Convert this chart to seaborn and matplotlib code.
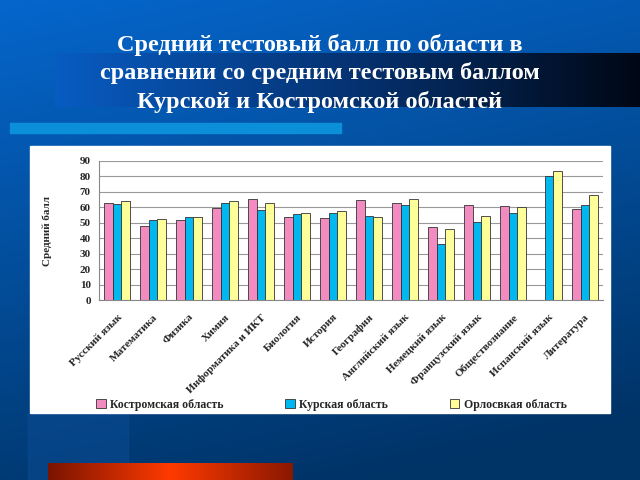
import numpy as np
import pandas as pd
import matplotlib
matplotlib.use("Agg")
import matplotlib.pyplot as plt
import seaborn as sns
from matplotlib.patches import Rectangle
from matplotlib.colors import LinearSegmentedColormap
from matplotlib.transforms import ScaledTranslation

subjects = ["Русский язык", "Математика", "Физика", "Химия", "Информатика и ИКТ",
            "Биология", "История", "География", "Английский язык", "Немецкий язык",
            "Французский язык", "Обществознание", "Испанский язык", "Литература"]
kostroma = [63.1, 47.7, 51.8, 59.6, 65.1, 53.6, 53.4, 64.6, 62.7, 47.3, 61.8, 60.9, np.nan, 59.0]
kursk = [62.0, 51.6, 54.0, 62.5, 58.1, 56.0, 56.4, 54.7, 61.4, 36.2, 50.7, 56.4, 80.2, 61.6]
orel = [64.4, 52.3, 54.0, 63.8, 62.7, 56.2, 57.7, 53.6, 65.3, 45.8, 54.7, 60.5, 83.3, 67.9]
series_names = ["Костромская область", "Курская область", "Орлосвкая область"]
title_lines = ["Средний тестовый балл по области в",
               "сравнении со средним тестовым баллом",
               "Курской и Костромской областей"]
y_label = "Средний балл"

rows = []
for vals, name in zip([kostroma, kursk, orel], series_names):
    for s, v in zip(subjects, vals):
        rows.append({"subject": s, "region": name, "value": v})
df = pd.DataFrame(rows)

sns.set_style("white")
plt.rcParams["font.family"] = ["Liberation Serif", "DejaVu Serif"]

W, H = 640, 480
fig = plt.figure(figsize=(6.4, 4.8), dpi=100)

# background
bg = fig.add_axes([0, 0, 1, 1], zorder=-10)
bg.set_xlim(0, W); bg.set_ylim(H, 0); bg.axis("off")
yy = np.linspace(0, 1, 200)[:, None]
xx = np.linspace(0, 1, 200)[None, :]
top = np.array([0.02, 0.40, 0.80]); bot = np.array([0.0, 0.20, 0.40])
t = np.clip(yy * 0.85 + xx * 0.25, 0, 1)[..., None]
img = top * (1 - t) + bot * t
bg.imshow(img, extent=[0, W, H, 0], aspect="auto", zorder=0)
band_cmap = LinearSegmentedColormap.from_list("band", [(0.03, 0.36, 0.76), (0.02, 0.20, 0.45), (0.0, 0.03, 0.08)])
grad = np.linspace(0, 1, 256)[None, :]
bg.imshow(grad, cmap=band_cmap, extent=[55, W, 107, 53], aspect="auto", zorder=1)
bg.add_patch(Rectangle((10, 123), 331, 10, color="#0a8fd8", zorder=2))
bg.add_patch(Rectangle((28, 413), 100, 67, color="#0a4a90", alpha=0.6, zorder=1))
red_cmap = LinearSegmentedColormap.from_list("red", ["#7a1400", "#ff3a00", "#8a1800"])
bg.imshow(grad, cmap=red_cmap, extent=[48, 293, 480, 463], aspect="auto", zorder=2)
bg.add_patch(Rectangle((30, 146), 580, 267, color="white", zorder=3))

for i, line in enumerate(title_lines):
    fig.text(0.5, 1 - (45 + i * 28.5) / H, line, ha="center", va="center",
             color="white", fontsize=17.5, fontweight="bold")

ax = fig.add_axes([99 / W, 1 - 300 / H, (603 - 99) / W, (300 - 161) / H])
palette = {"Костромская область": "#f28cc0", "Курская область": "#00b8f0",
           "Орлосвкая область": "#ffff99"}
sns.barplot(data=df, x="subject", y="value", hue="region", palette=palette,
            width=0.72, edgecolor="#333333", linewidth=0.6, saturation=1,
            ax=ax, legend=True)
ax.set_ylim(0, 90)
ax.set_yticks(range(0, 91, 10))
ax.yaxis.grid(True, color="#999999", linewidth=0.8)
ax.set_axisbelow(True)
ax.set_xlabel("")
ax.set_ylabel(y_label, fontsize=8, fontweight="bold", labelpad=20)
ax.set_xticks(range(len(subjects)))
ax.set_xticklabels(subjects, rotation=45, ha="right", rotation_mode="anchor",
                   fontsize=8, fontweight="bold")
shift = ScaledTranslation(-4 / 100, 0, fig.dpi_scale_trans)
for lab in ax.get_xticklabels():
    lab.set_transform(lab.get_transform() + shift)
for lab in ax.get_yticklabels():
    lab.set_fontsize(8); lab.set_fontweight("bold")
for s in ["top", "right"]:
    ax.spines[s].set_visible(False)
for s in ["left", "bottom"]:
    ax.spines[s].set_color("#888888"); ax.spines[s].set_linewidth(0.8)
ax.tick_params(axis="x", length=0, color="#888888", pad=9)
ax.tick_params(axis="y", length=3, color="#888888", pad=3)
ax.set_xticks(np.arange(-0.5, len(subjects), 1), minor=True)
ax.tick_params(axis="x", which="minor", length=3, color="#888888")
ax.set_xlim(-0.5, len(subjects) - 0.5)

handles, labels = ax.get_legend_handles_labels()
ax.legend_.remove()
fig.legend(handles, labels, loc="center", bbox_to_anchor=(0.518, 1 - 405 / H),
           ncol=3, frameon=False, prop={"weight": "bold", "size": 8.5},
           handlelength=0.8, handleheight=0.8, columnspacing=5.2, handletextpad=0.4)

fig.savefig("out.png", dpi=100)
